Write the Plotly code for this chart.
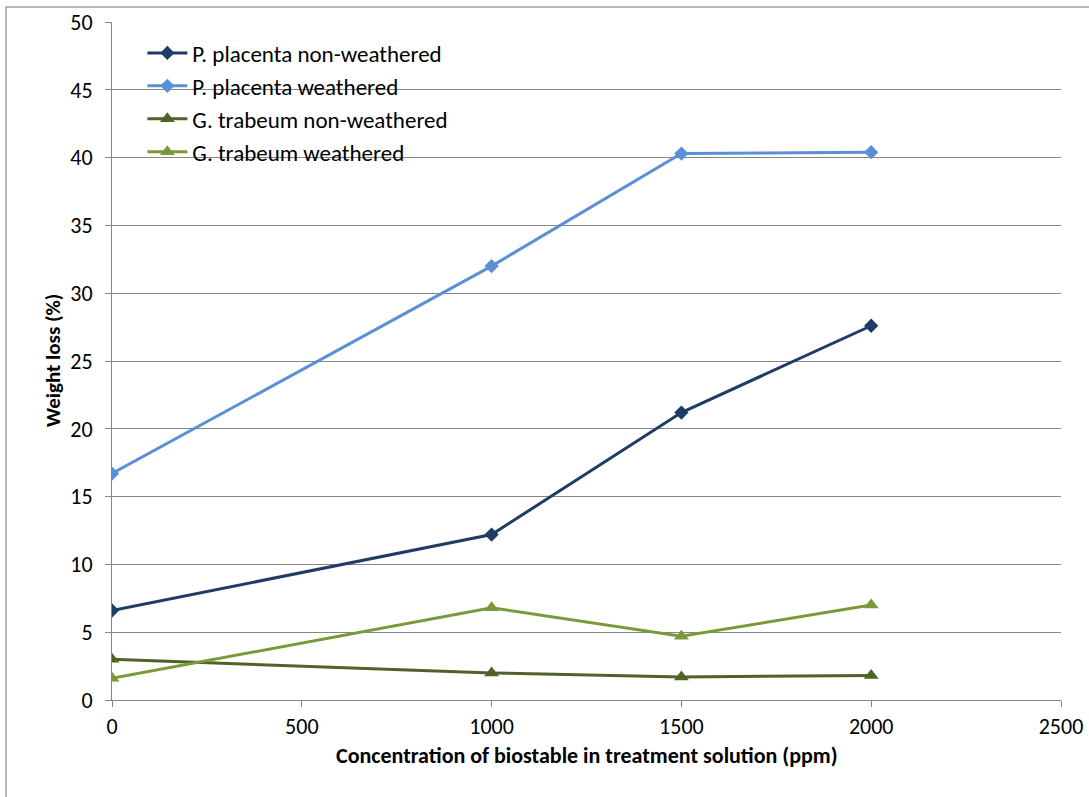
import plotly.graph_objects as go

conc = [0, 1000, 1500, 2000]
pp_nonweathered = [6.6, 12.2, 21.2, 27.6]
pp_weathered = [16.7, 32.0, 40.3, 40.4]
gt_nonweathered = [3.0, 2.0, 1.7, 1.8]
gt_weathered = [1.6, 6.8, 4.7, 7.0]

series = [
    ("P. placenta non-weathered", pp_nonweathered, "#1F3B66", "diamond", 11),
    ("P. placenta weathered", pp_weathered, "#5B8FD6", "diamond", 11),
    ("G. trabeum non-weathered", gt_nonweathered, "#4F6228", "triangle-up", 13),
    ("G. trabeum weathered", gt_weathered, "#7A9A3A", "triangle-up", 13),
]

fig = go.Figure()
for name, vals, color, sym, size in series:
    fig.add_trace(go.Scatter(
        x=conc, y=vals, name=name, mode="lines+markers",
        line=dict(color=color, width=3),
        marker=dict(symbol=sym, size=size, color=color),
    ))

font_family = "Carlito, Calibri, 'Open Sans', 'Liberation Sans', sans-serif"

fig.update_layout(
    width=1089, height=797,
    margin=dict(l=112, r=28, t=22, b=97),
    paper_bgcolor="white", plot_bgcolor="white",
    font=dict(family=font_family, size=22, color="#000000"),
    showlegend=True,
    legend=dict(
        x=0.032, y=0.986, xanchor="left", yanchor="top",
        bgcolor="rgba(0,0,0,0)", font=dict(size=23),
        tracegroupgap=0, itemwidth=40,
    ),
    xaxis=dict(
        range=[0, 2500], tickvals=[0, 500, 1000, 1500, 2000, 2500],
        showgrid=False, showline=True, linecolor="#868686", linewidth=1,
        ticks="outside", ticklen=6, tickcolor="#868686",
        ticklabelstandoff=1,
        zeroline=False, automargin=False,
    ),
    yaxis=dict(
        range=[0, 50], tickvals=list(range(0, 51, 5)),
        showgrid=True, gridcolor="#868686", gridwidth=1,
        showline=True, linecolor="#868686", linewidth=1,
        ticks="outside", ticklen=6, tickcolor="#868686",
        ticklabelstandoff=8,
        zeroline=False, automargin=False,
    ),
)

fig.add_annotation(
    text="<b>Concentration of biostable in treatment solution (ppm)</b>",
    xref="paper", yref="paper", x=0.5, y=(700 - 755) / 678,
    xanchor="center", yanchor="middle", showarrow=False,
    font=dict(size=22, family=font_family, color="#000000"),
)
fig.add_annotation(
    text="<b>Weight loss (%)</b>", textangle=-90,
    xref="paper", yref="paper", x=(53 - 112) / 949, y=(700 - 361) / 678,
    xanchor="center", yanchor="middle", showarrow=False,
    font=dict(size=21, family=font_family, color="#000000"),
)

fig.add_shape(type="rect", xref="paper", yref="paper",
              x0=(6 - 112) / 949, x1=1.2,
              y0=-1, y1=(700 - 7) / 678,
              line=dict(color="#A0A0A0", width=1.5), layer="below")

fig.write_html("out.html", config={"displayModeBar": False},
               post_script="document.body.style.margin='0';")
